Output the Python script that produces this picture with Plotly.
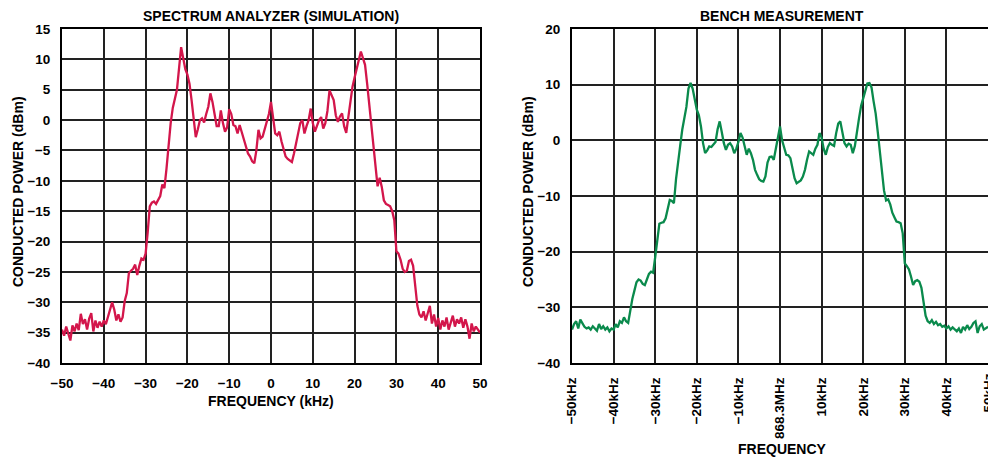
import numpy as np
import plotly.graph_objects as go

# frequency offset grid (kHz), 0.5 kHz steps
freq_khz = np.linspace(-50, 50, 201)

# spectrum analyzer simulation trace (dBm)
sim_dbm = [
    -34.5, -35.5, -34.0, -35.0, -36.3, -33.8, -34.8, -33.5, -34.6, -31.9,
    -33.6, -32.8, -34.5, -32.7, -31.8, -34.8, -33.0, -34.2, -33.2, -34.0,
    -33.0, -33.6, -32.5, -31.0, -30.0, -31.2, -33.0, -32.0, -33.2, -32.5,
    -29.8, -28.5, -25.2, -24.8, -24.5, -23.8, -25.5, -24.0, -22.8, -23.0,
    -22.0, -18.5, -14.2, -13.6, -13.4, -13.8, -13.0, -12.5, -10.6, -11.2,
    -8.0, -3.5, -0.5, 2.0, 3.8, 5.0, 8.5, 12.0, 10.2, 8.4,
    7.5, 6.0, 3.3, 0.5, -2.8, -1.5, 0.0, 0.3, -0.4, 1.0,
    2.2, 4.4, 3.0, 1.0, -1.0, -1.0, 1.6, -0.5, -1.9, -1.2,
    1.8, 1.0, -0.8, -1.0, -2.2, -0.8, -2.0, -3.5, -4.7, -5.5,
    -6.0, -6.8, -7.1, -5.0, -1.6, -3.0, -2.7, -1.5, -0.5, 1.0,
    3.0, 0.5, -2.2, -2.5, -1.9, -3.5, -5.0, -6.0, -6.4, -6.6,
    -6.9, -5.5, -3.8, -2.0, -0.5, 0.0, -2.2, -1.0, 0.0, 1.9,
    -0.5, -1.9, -1.0, 0.0, 0.5, -1.4, -0.5, 1.5, 4.9, 4.0,
    3.3, 0.8, -0.3, 0.6, 1.1, -1.0, -2.1, 0.5, 3.0, 5.5,
    7.0, 8.6, 9.8, 11.3, 10.2, 9.1, 6.0, 2.5, -1.1, -4.5,
    -7.5, -10.9, -9.5, -11.0, -13.2, -13.8, -14.0, -14.2, -15.0, -16.5,
    -21.6, -22.0, -23.0, -24.5, -25.0, -24.8, -23.2, -23.0, -24.0, -27.5,
    -30.5, -32.0, -32.5, -31.5, -33.0, -31.8, -30.6, -33.5, -32.0, -34.0,
    -32.6, -34.5, -33.0, -34.0, -32.5, -34.5, -33.2, -32.2, -34.0, -32.8,
    -33.5, -32.5, -34.2, -32.8, -34.0, -36.0, -33.5, -34.8, -34.0, -34.5,
    -35.0,
]

# bench measurement trace (dBm)
bench_dbm = [
    -34.0, -33.0, -32.5, -33.8, -32.2, -33.0, -33.5, -33.8, -33.6, -34.0,
    -33.4, -33.8, -34.2, -33.0, -33.9, -33.4, -34.0, -33.6, -34.3, -33.8,
    -34.0, -33.0, -33.6, -32.5, -32.8, -31.8, -32.5, -32.8, -30.5, -28.5,
    -27.0, -25.5, -25.0, -25.2, -25.8, -26.0, -25.0, -24.0, -23.6, -23.8,
    -21.0, -18.0, -15.0, -14.8, -14.7, -14.0, -12.5, -10.7, -10.9, -11.3,
    -7.0, -3.5, -1.0, 1.9, 4.0, 6.0, 9.3, 10.3, 9.3, 7.0,
    5.5, 4.5, 2.5, -0.5, -2.3, -1.8, -1.1, -1.2, -0.8, -0.3,
    2.0, 3.4, 1.5, -0.5, -1.7, -0.8, -0.5, -1.1, -2.3, -1.5,
    -0.3, 1.3, 0.5, -1.0, -2.6, -1.5, -2.3, -3.5, -5.3, -6.2,
    -7.0, -7.3, -7.4, -6.5, -4.0, -3.0, -2.9, -3.5, -1.5, 0.5,
    2.5, 0.0, -1.5, -2.6, -2.7, -3.2, -5.0, -6.8, -7.7, -7.5,
    -7.2, -6.5, -5.3, -3.5, -2.0, -2.3, -2.6, -1.5, -0.8, 1.3,
    0.5, -1.5, -2.6, -1.2, -0.5, -0.8, -1.0, 1.3, 3.0, 3.4,
    1.2, -0.5, -1.1, -0.6, -0.8, -2.3, -1.0, 1.9, 4.0, 6.2,
    7.5, 8.5, 10.2, 10.3, 9.5, 7.0, 4.8, 1.5, -2.0, -5.8,
    -9.0, -10.8, -10.6, -11.5, -13.0, -13.8, -14.6, -14.7, -14.9, -16.7,
    -22.1, -22.6, -23.2, -24.5, -26.0, -25.3, -25.1, -25.4, -26.5, -29.0,
    -31.5, -32.5, -32.8, -32.3, -33.0, -32.6, -33.2, -33.0, -33.5, -33.3,
    -33.8, -33.4, -34.0, -33.6, -34.0, -34.3, -33.8, -34.6, -33.5, -34.0,
    -33.2, -33.9, -33.5, -32.8, -32.5, -34.6, -33.4, -33.0, -34.0, -33.7,
    -33.5,
]

bench_tickvals = [-50, -40, -30, -20, -10, 0, 10, 20, 30, 40, 50]
bench_ticktext = ["\u221250kHz", "\u221240kHz", "\u221230kHz", "\u221220kHz", "\u221210kHz",
                  "868.3MHz", "10kHz", "20kHz", "30kHz", "40kHz", "50kHz"]

W, H = 988, 458
FONT = "Liberation Sans, Arial, sans-serif"
bold = dict(family=FONT, size=14, color="black", weight="bold")
tick_font = dict(family=FONT, size=13.5, color="black", weight="bold")

fig = go.Figure()
fig.add_trace(go.Scatter(x=freq_khz, y=sim_dbm, mode="lines",
                         line=dict(color="#d3164b", width=2.3), xaxis="x", yaxis="y"))
fig.add_trace(go.Scatter(x=freq_khz, y=bench_dbm, mode="lines",
                         line=dict(color="#0a8a4c", width=2.3), xaxis="x2", yaxis="y2"))

axis_style = dict(showgrid=True, gridcolor="#222222", gridwidth=1.8,
                  showline=True, linecolor="black", linewidth=2, mirror=True,
                  zeroline=False, ticks="", tickfont=tick_font, ticklabelstandoff=7,
                  automargin=False)

fig.update_layout(
    width=W, height=H,
    margin=dict(l=0, r=0, t=29, b=95),
    plot_bgcolor="white", paper_bgcolor="white",
    showlegend=False,
    hovermode=False,
    xaxis=dict(domain=[62 / W, 480 / W], range=[-50, 50], dtick=10,
               anchor="y", **axis_style),
    yaxis=dict(domain=[0, 1], range=[-40, 15], dtick=5, anchor="x", **axis_style),
    xaxis2=dict(domain=[572 / W, 1.0], range=[-50, 50], tickvals=bench_tickvals,
                ticktext=bench_ticktext, tickangle=-90, anchor="y2", **axis_style),
    yaxis2=dict(domain=[0, 1], range=[-40, 20], dtick=10, anchor="x2", **axis_style),
)

def px(x, y):
    return dict(x=x / W, y=1 - (y - 29) / (H - 29 - 95), xref="paper", yref="paper")

notes = [
    ("SPECTRUM ANALYZER (SIMULATION)", 271, 16, 0),
    ("BENCH MEASUREMENT", 782, 16, 0),
    ("CONDUCTED POWER (dBm)", 18, 192, -90),
    ("CONDUCTED POWER (dBm)", 528, 192, -90),
    ("FREQUENCY (kHz)", 271, 401, 0),
    ("FREQUENCY", 782, 449, 0),
]
for text, x, y, ang in notes:
    fig.add_annotation(text=text, showarrow=False, textangle=ang, font=bold,
                       xanchor="center", yanchor="middle", **px(x, y))

# last tick label sits on the page edge and is cut off there, as in the original
fig.add_annotation(text=bench_ticktext[-1], showarrow=False, textangle=-90,
                   font=tick_font, xref="x2", x=bench_tickvals[-1], yref="paper",
                   y=1 - (372 - 29) / (H - 29 - 95), xanchor="center", yanchor="top")

fig.write_html("out.html", config={"displayModeBar": False},
               post_script="document.body.style.margin='0px';")
